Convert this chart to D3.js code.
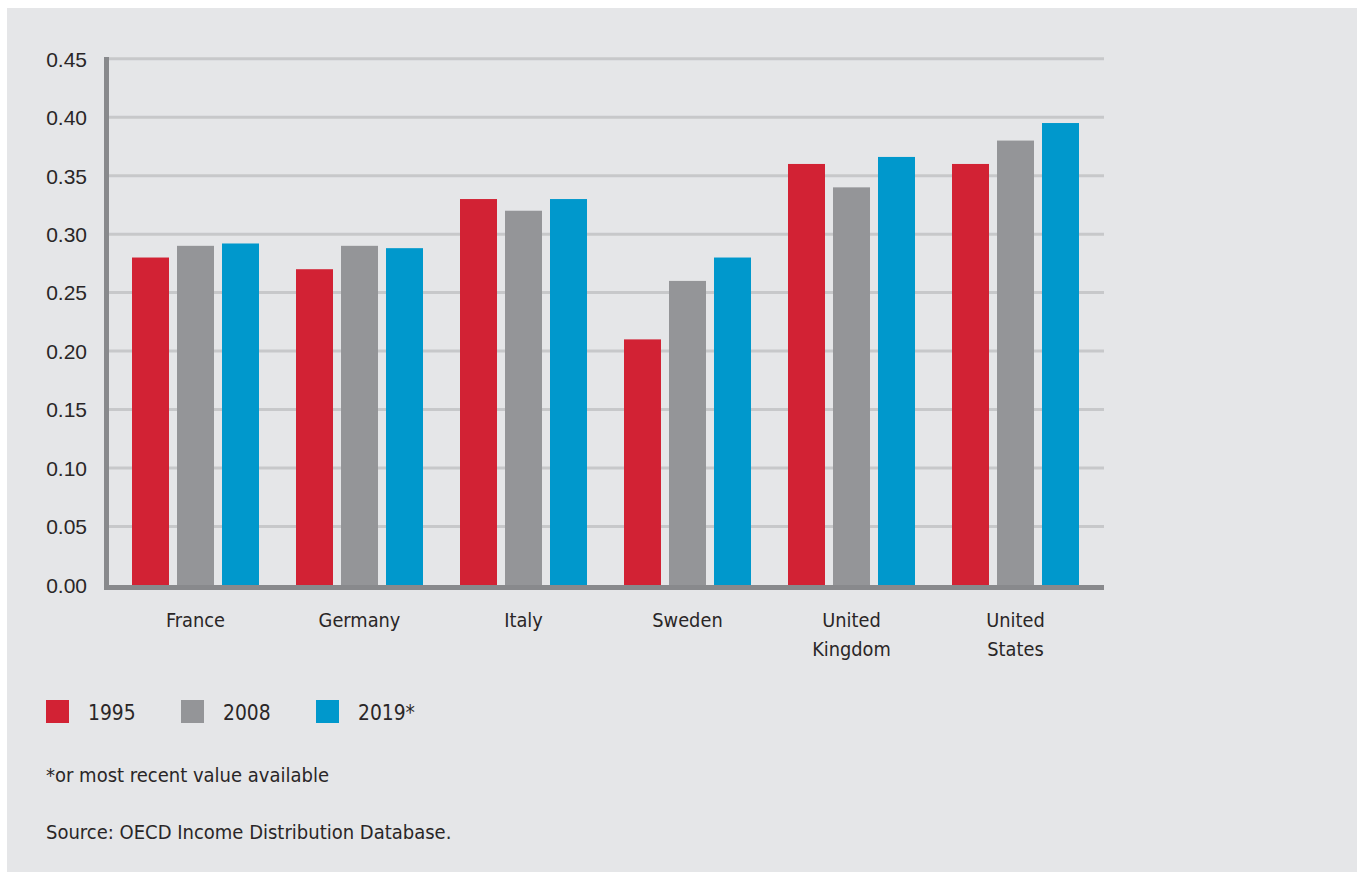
<!DOCTYPE html>
<html>
<head>
<meta charset="utf-8">
<script src="https://cdn.jsdelivr.net/npm/d3@7"></script>
<style>
  html, body { margin: 0; padding: 0; background: #ffffff; }
  svg { display: block; }
  text { font-family: "Liberation Sans Narrow", "Arial Narrow", "DejaVu Sans Condensed", sans-serif; fill: #2a2627; }
</style>
</head>
<body>
<svg id="chart" width="1357" height="873"></svg>
<script>
// ---- data ----
const countries = ["France", "Germany", "Italy", "Sweden", "United Kingdom", "United States"];
const countryLines = [["France"], ["Germany"], ["Italy"], ["Sweden"], ["United", "Kingdom"], ["United", "States"]];
const seriesNames = ["1995", "2008", "2019*"];
const values1995 = [0.28, 0.27, 0.33, 0.21, 0.36, 0.36];
const values2008 = [0.29, 0.29, 0.32, 0.26, 0.34, 0.38];
const values2019 = [0.292, 0.288, 0.33, 0.28, 0.366, 0.395];
const yTicks = [0, 0.05, 0.10, 0.15, 0.20, 0.25, 0.30, 0.35, 0.40, 0.45];
const seriesColors = ["#d22234", "#949598", "#0098cc"];
const footnote = "*or most recent value available";
const source = "Source: OECD Income Distribution Database.";

const seriesValues = [values1995, values2008, values2019];
const rows = countries.map((c, i) => ({ country: c, lines: countryLines[i], vals: seriesNames.map((s, j) => ({ series: s, value: seriesValues[j][i] })) }));

const svg = d3.select("#chart");

// background panel
svg.append("rect").attr("x", 7).attr("y", 8).attr("width", 1350).attr("height", 864).attr("fill", "#e5e6e8");

const y = d3.scaleLinear().domain([0, 0.45]).range([585, 58.7]);
const x0 = d3.scaleBand().domain(countries).range([113.5, 1097.5]).paddingInner(37 / 164).paddingOuter(37 / 328);
const x1 = d3.scaleBand().domain(seriesNames).range([0, x0.bandwidth()]).paddingInner(8 / 45).paddingOuter(0);
const color = d3.scaleOrdinal().domain(seriesNames).range(seriesColors);

// y axis tick labels
const yAxis = d3.axisLeft(y).tickValues(yTicks).tickFormat(d3.format(".2f")).tickSize(0).tickPadding(20);
const gy = svg.append("g").attr("transform", "translate(107,0)").call(yAxis);
gy.select(".domain").remove();
gy.selectAll("text").attr("font-size", 21).attr("x", -20).attr("dy", "0.35em")
  .style("font-family", "'Liberation Sans Narrow', 'Arial Narrow', sans-serif").attr("fill", "#2a2627");

// gridlines
svg.append("g").selectAll("line").data(yTicks.filter(d => d > 0)).join("line")
  .attr("x1", 109).attr("x2", 1104).attr("y1", d => y(d)).attr("y2", d => y(d))
  .attr("stroke", "#c7c8ca").attr("stroke-width", 3);

// bars
const groups = svg.append("g").selectAll("g").data(rows).join("g")
  .attr("transform", d => `translate(${x0(d.country)},0)`);
groups.selectAll("rect").data(d => d.vals).join("rect")
  .attr("x", d => x1(d.series)).attr("width", x1.bandwidth())
  .attr("y", d => y(d.value)).attr("height", d => y(0) - y(d.value))
  .attr("fill", d => color(d.series));

// axis lines
svg.append("line").attr("x1", 106.5).attr("x2", 106.5).attr("y1", 57).attr("y2", 590)
  .attr("stroke", "#88898c").attr("stroke-width", 5);
svg.append("line").attr("x1", 104).attr("x2", 1104).attr("y1", 587.5).attr("y2", 587.5)
  .attr("stroke", "#88898c").attr("stroke-width", 5);

// x labels
const xl = svg.append("g").selectAll("text").data(rows).join("text")
  .attr("x", d => x0(d.country) + x0.bandwidth() / 2).attr("y", 627)
  .attr("text-anchor", "middle").attr("font-size", 19.8);
xl.selectAll("tspan").data(d => d.lines).join("tspan")
  .attr("x", function () { return d3.select(this.parentNode).attr("x"); })
  .attr("dy", (d, i) => i === 0 ? 0 : 29).text(d => d);

// legend
const legendX = [46, 181, 316];
const lg = svg.append("g").selectAll("g").data(seriesNames).join("g")
  .attr("transform", (d, i) => `translate(${legendX[i]},700)`);
lg.append("rect").attr("width", 23).attr("height", 23).attr("fill", d => color(d));
lg.append("text").attr("x", 42).attr("y", 19.5).attr("font-size", 20.8).text(d => d);

svg.append("text").attr("x", 46).attr("y", 782).attr("font-size", 20).text(footnote);
svg.append("text").attr("x", 46).attr("y", 839).attr("font-size", 20).text(source);
</script>
</body>
</html>
